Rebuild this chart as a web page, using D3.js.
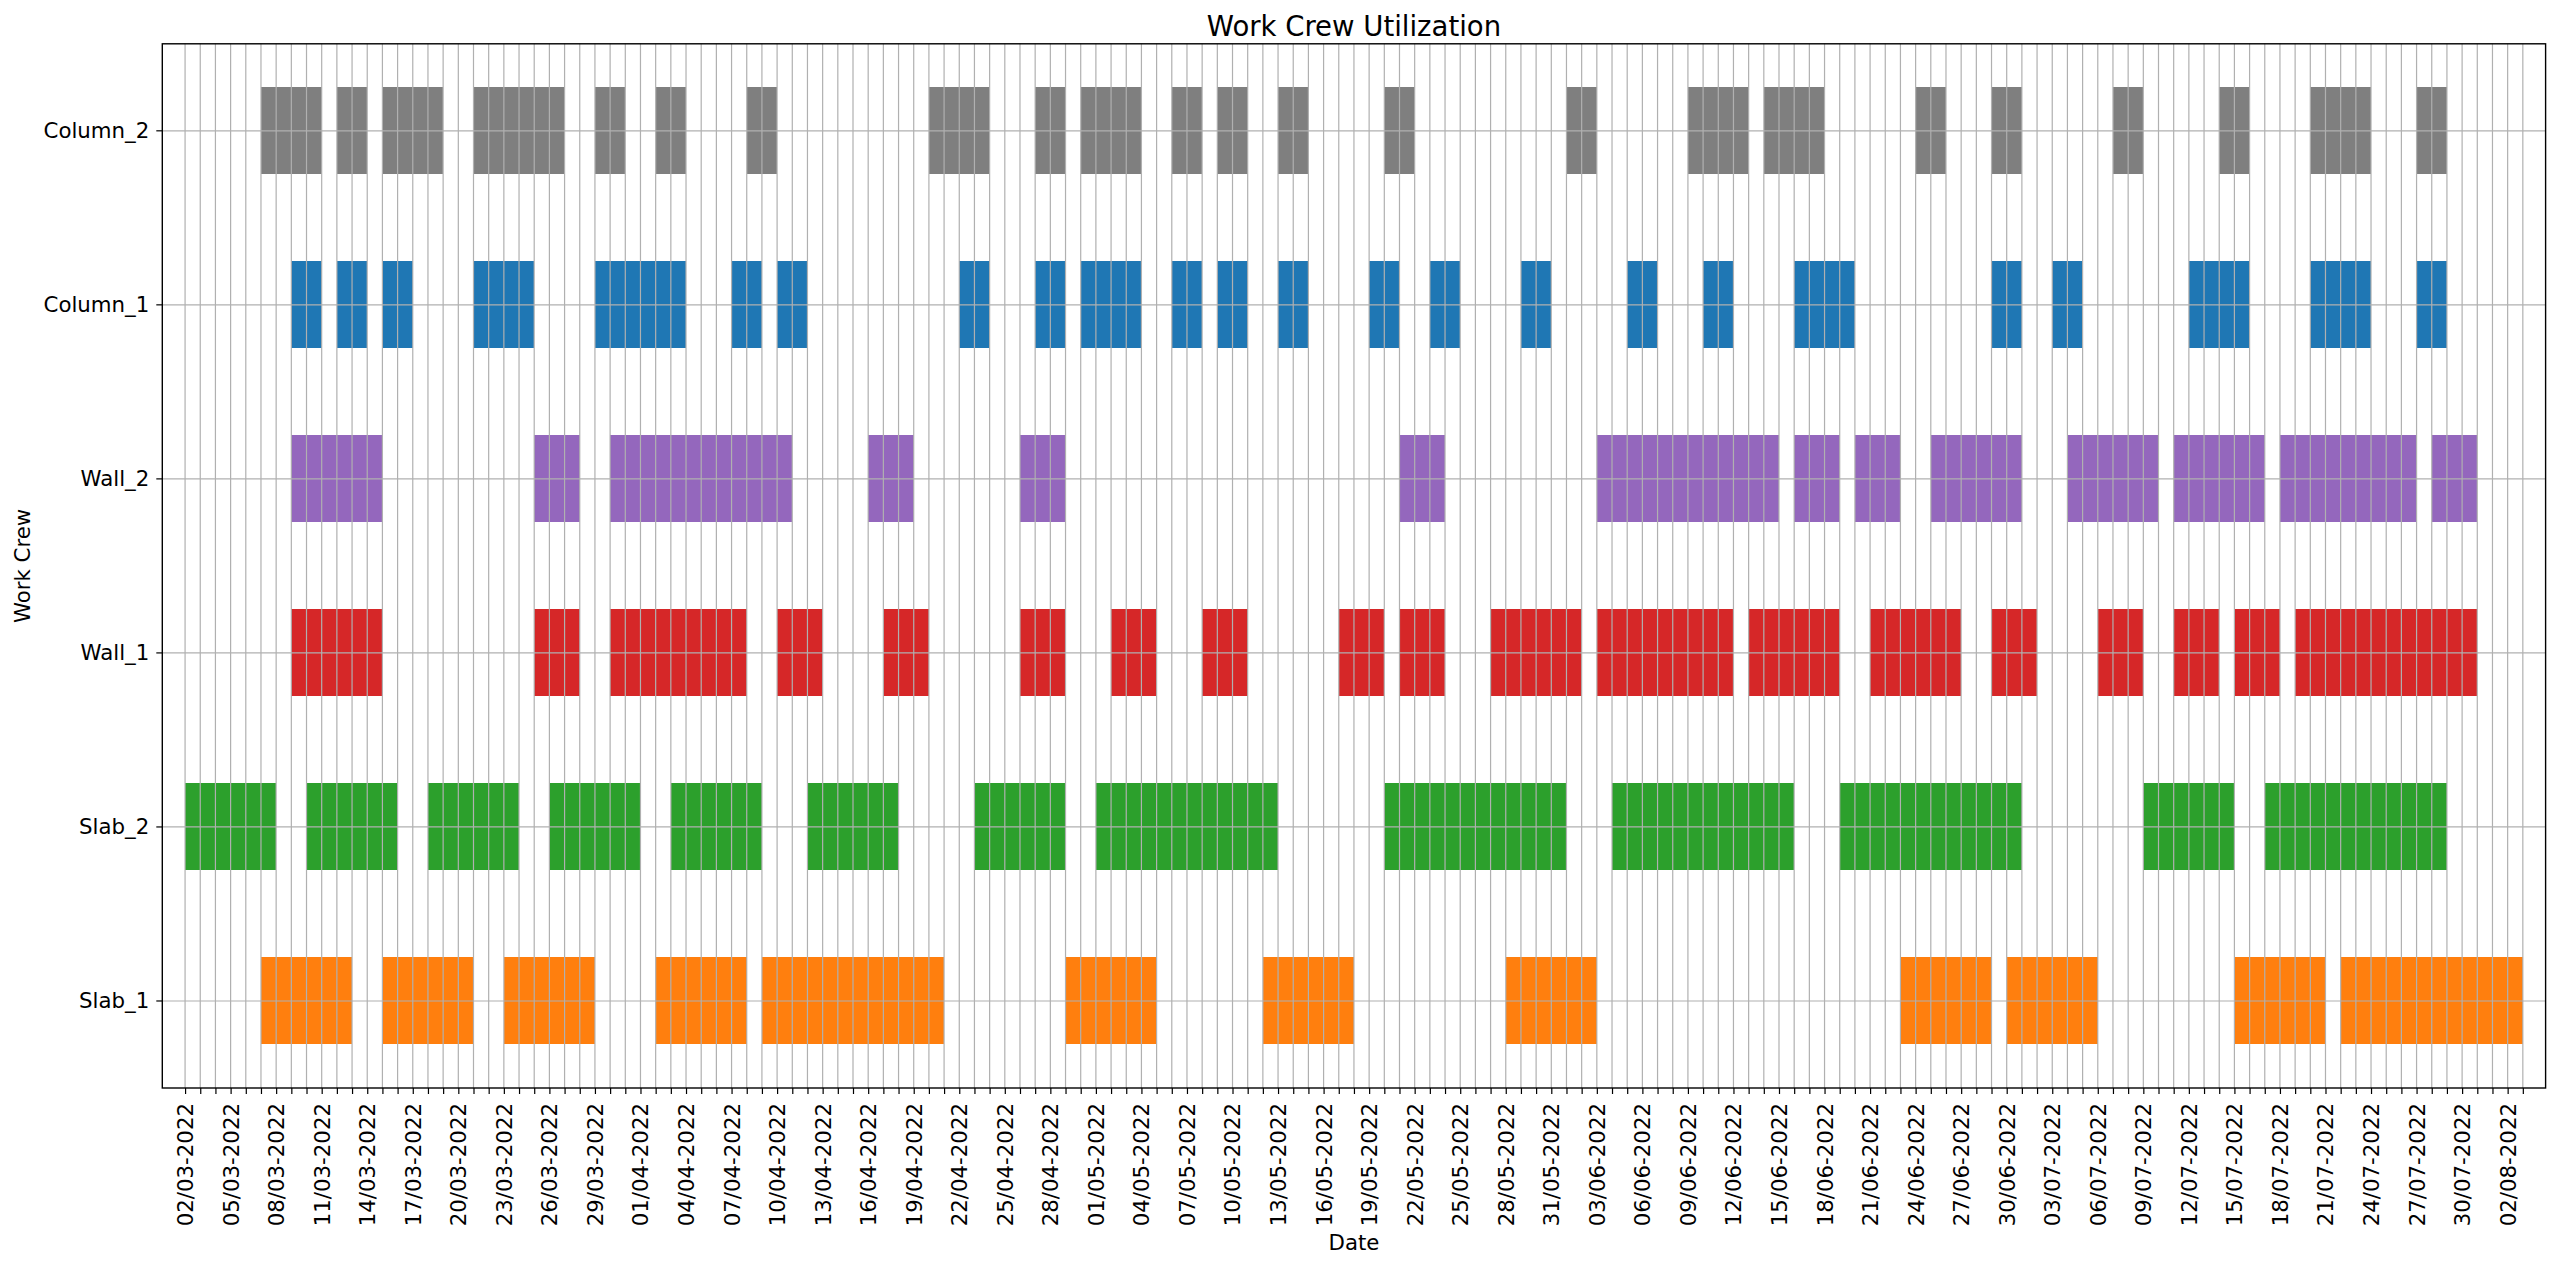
<!DOCTYPE html>
<html>
<head>
<meta charset="utf-8">
<script src="https://cdn.jsdelivr.net/npm/d3@7"></script>
<style>
  html, body { margin: 0; padding: 0; background: #ffffff; }
  svg { display: block; }
  text { font-family: "DejaVu Sans", sans-serif; fill: #000; }
</style>
</head>
<body>
<svg id="chart" width="2560" height="1269"></svg>
<script>
// ---------------- DATA ----------------
// Crew names (top to bottom in the chart)
const crews = ["Column_2", "Column_1", "Wall_2", "Wall_1", "Slab_2", "Slab_1"];
const crewColors = ["#7f7f7f", "#1f77b4", "#9467bd", "#d62728", "#2ca02c", "#ff7f0e"];

// Working blocks per crew: [first working day, number of consecutive days]
const column2 = [["2022-03-07",4],["2022-03-12",2],["2022-03-15",4],["2022-03-21",6],["2022-03-29",2],
  ["2022-04-02",2],["2022-04-08",2],["2022-04-20",4],["2022-04-27",2],["2022-04-30",4],["2022-05-06",2],
  ["2022-05-09",2],["2022-05-13",2],["2022-05-20",2],["2022-06-01",2],["2022-06-09",4],["2022-06-14",4],
  ["2022-06-24",2],["2022-06-29",2],["2022-07-07",2],["2022-07-14",2],["2022-07-20",4],["2022-07-27",2]];
const column1 = [["2022-03-09",2],["2022-03-12",2],["2022-03-15",2],["2022-03-21",4],["2022-03-29",6],
  ["2022-04-07",2],["2022-04-10",2],["2022-04-22",2],["2022-04-27",2],["2022-04-30",4],["2022-05-06",2],
  ["2022-05-09",2],["2022-05-13",2],["2022-05-19",2],["2022-05-23",2],["2022-05-29",2],["2022-06-05",2],
  ["2022-06-10",2],["2022-06-16",4],["2022-06-29",2],["2022-07-03",2],["2022-07-12",4],["2022-07-20",4],
  ["2022-07-27",2]];
const wall2 = [["2022-03-09",6],["2022-03-25",3],["2022-03-30",12],["2022-04-16",3],["2022-04-26",3],
  ["2022-05-21",3],["2022-06-03",12],["2022-06-16",3],["2022-06-20",3],["2022-06-25",6],["2022-07-04",6],
  ["2022-07-11",6],["2022-07-18",9],["2022-07-28",3]];
const wall1 = [["2022-03-09",6],["2022-03-25",3],["2022-03-30",9],["2022-04-10",3],["2022-04-17",3],
  ["2022-04-26",3],["2022-05-02",3],["2022-05-08",3],["2022-05-17",3],["2022-05-21",3],["2022-05-27",6],
  ["2022-06-03",9],["2022-06-13",6],["2022-06-21",6],["2022-06-29",3],["2022-07-06",3],["2022-07-11",3],
  ["2022-07-15",3],["2022-07-19",12]];
const slab2 = [["2022-03-02",6],["2022-03-10",6],["2022-03-18",6],["2022-03-26",6],["2022-04-03",6],
  ["2022-04-12",6],["2022-04-23",6],["2022-05-01",12],["2022-05-20",12],["2022-06-04",12],["2022-06-19",12],
  ["2022-07-09",6],["2022-07-17",12]];
const slab1 = [["2022-03-07",6],["2022-03-15",6],["2022-03-23",6],["2022-04-02",6],["2022-04-09",12],
  ["2022-04-29",6],["2022-05-12",6],["2022-05-28",6],["2022-06-23",6],["2022-06-30",6],["2022-07-15",6],
  ["2022-07-22",12]];
const crewBlocks = [column2, column1, wall2, wall1, slab2, slab1];

// Axis range and tick settings
const firstTick = "2022-03-02";
const lastTick = "2022-08-04";
const lastDataDay = "2022-08-03";
const tickLabelEvery = 3;
const titleText = "Work Crew Utilization";
const xLabelText = "Date";
const yLabelText = "Work Crew";

// ---------------- LAYOUT ----------------
const W = 2560, H = 1269;
const plot = { left: 162.3, top: 43.8, right: 2545.6, bottom: 1088 };
const pw = plot.right - plot.left, ph = plot.bottom - plot.top;
const parse = d3.utcParse("%Y-%m-%d");
const fmt = d3.utcFormat("%d/%m-%Y");

const t0 = parse(firstTick), tEnd = parse(lastDataDay);
const halfPad = 1.5 * 864e5;
const x = d3.scaleUtc()
  .domain([new Date(+t0 - halfPad), new Date(+tEnd + halfPad)])
  .range([0, pw]);
const y = d3.scaleBand().domain(crews).range([0, ph]).paddingInner(0.5).paddingOuter(0.25);

const svg = d3.select("#chart");
svg.append("rect").attr("width", W).attr("height", H).attr("fill", "#fff");
const g = svg.append("g").attr("transform", `translate(${plot.left},${plot.top})`);

// Bars: one rect per working day
const cells = [];
crewBlocks.forEach((blocks, ci) => {
  blocks.forEach(([start, len]) => {
    const s = parse(start);
    d3.range(len).forEach(i => cells.push({ crew: crews[ci], color: crewColors[ci], day: d3.utcDay.offset(s, i) }));
  });
});
g.append("g").selectAll("rect").data(cells).join("rect")
  .attr("x", d => x(d.day))
  .attr("width", d => x(d3.utcDay.offset(d.day, 1)) - x(d.day))
  .attr("y", d => y(d.crew))
  .attr("height", y.bandwidth())
  .attr("fill", d => d.color)
  .attr("shape-rendering", "crispEdges");

// Grid (drawn above bars)
const days = d3.utcDay.range(t0, parse(lastTick));
const grid = g.append("g").attr("stroke", "#b0b0b0").attr("stroke-width", 1.2);
grid.selectAll("line.v").data(days).join("line")
  .attr("x1", d => x(d)).attr("x2", d => x(d)).attr("y1", 0).attr("y2", ph);
grid.selectAll("line.h").data(crews).join("line")
  .attr("x1", 0).attr("x2", pw)
  .attr("y1", d => y(d) + y.bandwidth() / 2).attr("y2", d => y(d) + y.bandwidth() / 2);

// X axis
const xAxis = d3.axisBottom(x).tickValues(days).tickSizeOuter(0).tickSize(6).tickPadding(8)
  .tickFormat((d, i) => (i % tickLabelEvery === 0 ? fmt(d) : ""));
const xg = g.append("g").attr("transform", `translate(0,${ph})`).call(xAxis);
xg.select(".domain").remove();
xg.selectAll(".tick line").attr("stroke", "#000").attr("stroke-width", 1.2);
xg.selectAll(".tick text")
  .attr("font-size", "21.3px")
  .attr("font-family", "DejaVu Sans")
  .attr("text-anchor", "end")
  .attr("transform", "rotate(-90)")
  .attr("x", -15)
  .attr("y", 0)
  .attr("dy", "0.35em");

// Y axis
const yAxis = d3.axisLeft(y).tickSizeOuter(0).tickSize(6).tickPadding(7);
const yg = g.append("g").call(yAxis);
yg.select(".domain").remove();
yg.selectAll(".tick line").attr("stroke", "#000").attr("stroke-width", 1.2);
yg.selectAll(".tick text").attr("font-size", "21.3px").attr("font-family", "DejaVu Sans");

// Frame
g.append("rect").attr("x", 0).attr("y", 0).attr("width", pw).attr("height", ph)
  .attr("fill", "none").attr("stroke", "#000").attr("stroke-width", 1.4);

// Title and axis labels
svg.append("text").attr("x", plot.left + pw / 2).attr("y", 36)
  .attr("text-anchor", "middle").attr("font-size", "27.5px").text(titleText);
svg.append("text").attr("x", plot.left + pw / 2).attr("y", 1250)
  .attr("text-anchor", "middle").attr("font-size", "21.3px").text(xLabelText);
svg.append("text").attr("transform", `translate(30,${plot.top + ph / 2}) rotate(-90)`)
  .attr("text-anchor", "middle").attr("font-size", "21.3px").text(yLabelText);
</script>
</body>
</html>
